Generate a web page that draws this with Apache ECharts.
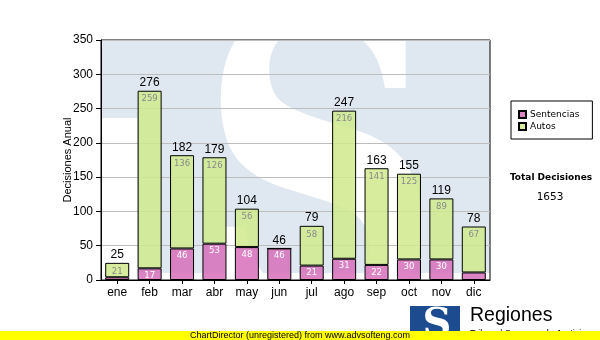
<!DOCTYPE html>
<html>
<head>
<meta charset="utf-8">
<script src="https://cdn.jsdelivr.net/npm/echarts@6/dist/echarts.min.js"></script>
<style>
  html, body { margin: 0; padding: 0; background: #ffffff; }
  #chart { width: 600px; height: 340px; }
</style>
</head>
<body>
<div id="chart"></div>
<script>
// Monthly decisions, split by type
const months = ['ene', 'feb', 'mar', 'abr', 'may', 'jun', 'jul', 'ago', 'sep', 'oct', 'nov', 'dic'];
const sentencias = [4, 17, 46, 53, 48, 46, 21, 31, 22, 30, 30, 11];
const autos = [21, 259, 136, 126, 56, 0, 58, 216, 141, 125, 89, 67];
const seriesNames = ['Sentencias', 'Autos'];

const totals = months.map((m, i) => sentencias[i] + autos[i]);
const grandTotal = totals.reduce((a, b) => a + b, 0);

const chart = echarts.init(document.getElementById('chart'), null, { renderer: 'canvas' });

const plot = { left: 101, top: 40, right: 490, bottom: 280 };
const wmBlue = '#dfe8f1';

// inner segment label: hidden when the segment is too short to hold it
function innerLabel(color, dist) {
  return {
    show: true,
    position: 'insideTop',
    distance: dist,
    color: color,
    fontFamily: 'DejaVu Sans',
    fontSize: 8.5,
    formatter: p => (p.value >= 15 ? String(p.value) : '')
  };
}

const option = {
  animation: false,
  backgroundColor: '#ffffff',
  textStyle: { fontFamily: 'Liberation Sans' },
  grid: {
    left: plot.left, top: plot.top,
    width: plot.right - plot.left, height: plot.bottom - plot.top,
    show: true, borderColor: '#000000', borderWidth: 1,
    backgroundColor: 'transparent'
  },
  legend: {
    data: seriesNames,
    orient: 'vertical',
    left: 511, top: 101,
    backgroundColor: '#ffffff',
    borderColor: '#000000', borderWidth: 1, borderRadius: 0,
    padding: [9, 13, 8, 7],
    itemWidth: 7, itemHeight: 7, itemGap: 3,
    icon: 'rect',
    textStyle: { fontFamily: 'DejaVu Sans', fontSize: 9, color: '#000000', padding: [0, 0, 0, -1] }
  },
  xAxis: {
    type: 'category',
    data: months,
    boundaryGap: true,
    axisLine: { show: true, lineStyle: { color: '#000000', width: 1 } },
    axisTick: { show: true, alignWithLabel: true, length: 4, lineStyle: { color: '#000000' } },
    axisLabel: { color: '#000000', fontSize: 12, margin: 7 }
  },
  yAxis: {
    type: 'value',
    min: 0, max: 350, interval: 50,
    name: 'Decisiones Anual',
    nameLocation: 'middle',
    nameGap: 28,
    nameRotate: 90,
    nameMoveOverlap: false,
    nameTextStyle: { color: '#000000', fontSize: 11 },
    axisLine: { show: true, lineStyle: { color: '#000000', width: 1 } },
    axisTick: { show: true, inside: false, length: 5, lineStyle: { color: '#000000' } },
    axisLabel: { color: '#000000', fontSize: 12, margin: 8 },
    splitLine: { show: true, lineStyle: { color: '#bdbdbd', width: 1 } }
  },
  series: [
    {
      name: seriesNames[0],
      type: 'bar',
      stack: 'total',
      barWidth: 24,
      data: sentencias,
      itemStyle: { color: 'rgba(214,110,186,0.85)', borderColor: '#000000', borderWidth: 1 },
      label: innerLabel('#ffffff', 3)
    },
    {
      name: seriesNames[1],
      type: 'bar',
      stack: 'total',
      barWidth: 24,
      data: autos,
      itemStyle: { color: 'rgba(208,234,140,0.85)', borderColor: '#000000', borderWidth: 1 },
      label: innerLabel('#8a8a8a', 4)
    },
    {
      name: 'total',
      type: 'bar',
      stack: 'total',
      barWidth: 24,
      data: months.map(() => 0),
      itemStyle: { color: 'transparent', borderWidth: 0 },
      label: {
        show: true,
        position: 'top',
        distance: 2,
        color: '#000000',
        fontSize: 12,
        formatter: p => String(totals[p.dataIndex])
      },
      silent: true
    }
  ],
  graphic: [
    // watermark behind the plot: pale blue field with a white S
    { type: 'rect', z: -10, silent: true,
      shape: { x: plot.left, y: plot.top, width: plot.right - plot.left, height: 233 },
      style: { fill: wmBlue } },
    { type: 'text', z: -9, silent: true, x: 320, y: 205, scaleX: 0.8,
      style: { text: 'S', fill: '#ffffff', font: 'bold 420px "DejaVu Serif"',
               textAlign: 'center', textVerticalAlign: 'middle' } },
    { type: 'rect', z: -8, silent: true,
      shape: { x: plot.left, y: 118, width: 36, height: 162 },
      style: { fill: '#ffffff' } },
    { type: 'rect', z: -8, silent: true,
      shape: { x: 90, y: 0, width: 420, height: plot.top },
      style: { fill: '#ffffff' } },
    { type: 'rect', z: -8, silent: true,
      shape: { x: 90, y: 273, width: 420, height: 67 },
      style: { fill: '#ffffff' } },

    // total of all decisions
    { type: 'text', x: 551, y: 178,
      style: { text: 'Total Decisiones', fill: '#000000', font: 'bold 9px "DejaVu Sans"',
               textAlign: 'center', textVerticalAlign: 'middle' } },
    { type: 'text', x: 550, y: 197,
      style: { text: String(grandTotal), fill: '#000000', font: '10.5px "DejaVu Sans"',
               textAlign: 'center', textVerticalAlign: 'middle' } },

    // logo block
    { type: 'rect', z: 5, shape: { x: 410, y: 306, width: 50, height: 34 }, style: { fill: '#1d4b8f' } },
    { type: 'text', z: 6, x: 437, y: 326,
      style: { text: 'S', fill: '#ffffff', font: 'bold 40px "DejaVu Serif"',
               textAlign: 'center', textVerticalAlign: 'middle' } },
    { type: 'text', z: 6, x: 470, y: 316,
      style: { text: 'Regiones', fill: '#000000', font: '19.5px "Liberation Sans"',
               textAlign: 'left', textVerticalAlign: 'middle' } },
    { type: 'text', z: 6, x: 470, y: 334,
      style: { text: 'Tribunal Supremo de Justicia', fill: '#000000', font: '9px "Liberation Sans"',
               textAlign: 'left', textVerticalAlign: 'middle' } },

    // footer strip
    { type: 'rect', z: 20, shape: { x: 0, y: 331, width: 600, height: 9 }, style: { fill: '#ffff00' } },
    { type: 'text', z: 21, x: 300, y: 336,
      style: { text: 'ChartDirector (unregistered) from www.advsofteng.com', fill: '#000000',
               font: '9px "Liberation Sans"', textAlign: 'center', textVerticalAlign: 'middle' } }
  ]
};

chart.setOption(option);
</script>
</body>
</html>
